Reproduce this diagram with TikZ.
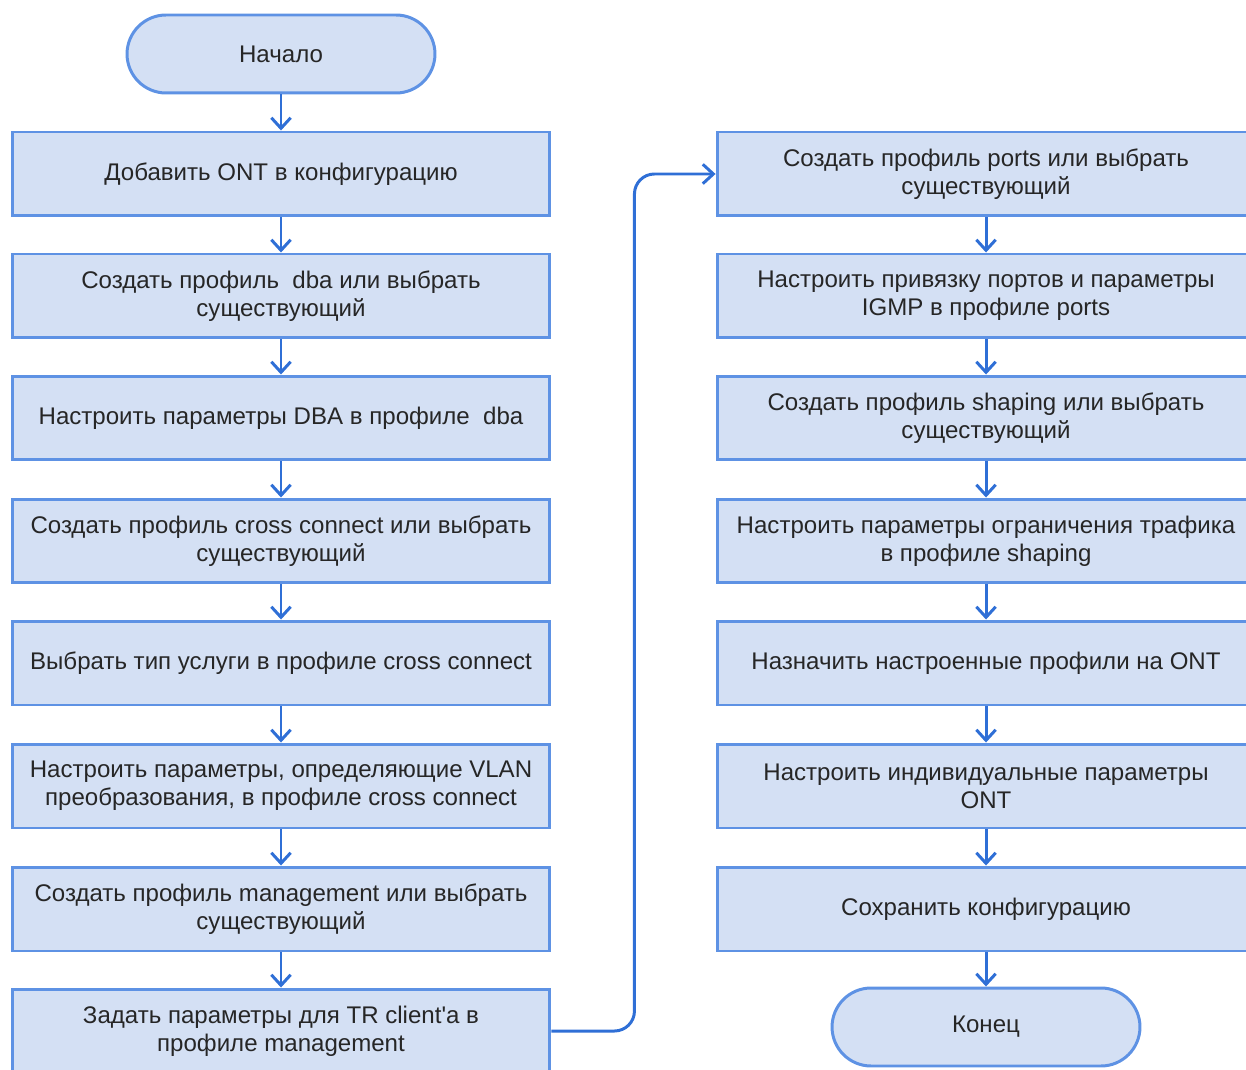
\documentclass[tikz,border=0pt]{standalone}
\usepackage{fontspec}
\setmainfont{Liberation Sans}
\usetikzlibrary{arrows.meta}
\definecolor{boxfill}{HTML}{D4E0F4}
\definecolor{boxline}{HTML}{5E92E4}
\definecolor{flowline}{HTML}{2F6FD6}
\tikzset{
  stepbox/.style={draw=boxline,fill=boxfill,line width=1.7pt,minimum width=10.76cm,minimum height=1.68cm,align=center,text=black!85,font=\fontsize{13.7pt}{16pt}\selectfont},
  terminal/.style={draw=boxline,fill=boxfill,line width=1.7pt,minimum width=6.16cm,minimum height=1.56cm,rounded corners=0.78cm,text=black!85,font=\fontsize{13.7pt}{16pt}\selectfont},
  flow/.style={draw=flowline,line width=1.7pt,-{Straight Barb[length=6pt,width=11pt,line width=1.7pt]}}
}
\begin{document}
\begin{tikzpicture}[x=0.02cm,y=-0.02cm]
\useasboundingbox (0,0) rectangle (1246,1070);
\clip (0,0) rectangle (1246,1070);

\node[terminal] (start) at (281,54) {Начало};

\node[stepbox] (l1) at (281,174) {Добавить ONT в конфигурацию};
\node[stepbox] (l2) at (281,296) {Создать профиль~ dba или выбрать\\существующий};
\node[stepbox] (l3) at (281,418) {Настроить параметры DBA в профиле~ dba};
\node[stepbox] (l4) at (281,541) {Создать профиль cross connect или выбрать\\существующий};
\node[stepbox] (l5) at (281,663) {Выбрать тип услуги в профиле cross connect};
\node[stepbox] (l6) at (281,786) {Настроить параметры, определяющие VLAN\\преобразования, в профиле cross connect};
\node[stepbox] (l7) at (281,909) {Создать профиль management или выбрать\\существующий};
\node[stepbox] (l8) at (281,1031) {Задать параметры для TR client\textquotesingle a в\\профиле management};

\node[stepbox] (r1) at (986,174) {Создать профиль ports или выбрать\\существующий};
\node[stepbox] (r2) at (986,296) {Настроить привязку портов и параметры\\IGMP в профиле ports};
\node[stepbox] (r3) at (986,418) {Создать профиль shaping или выбрать\\существующий};
\node[stepbox] (r4) at (986,541) {Настроить параметры ограничения трафика\\в профиле shaping};
\node[stepbox] (r5) at (986,663) {Назначить настроенные профили на ONT};
\node[stepbox] (r6) at (986,786) {Настроить индивидуальные параметры\\ONT};
\node[stepbox] (r7) at (986,909) {Сохранить конфигурацию};
\node[terminal] (stop) at (986,1027) {Конец};

\draw[flow] (start) -- (l1);
\foreach \a/\b in {l1/l2,l2/l3,l3/l4,l4/l5,l5/l6,l6/l7,l7/l8,r1/r2,r2/r3,r3/r4,r4/r5,r5/r6,r6/r7,r7/stop}
  \draw[flow] (\a) -- (\b);

\draw[flow,rounded corners=0.4cm] (l8.east) -- ++(83,0) |- (r1.west);

\end{tikzpicture}
\end{document}
